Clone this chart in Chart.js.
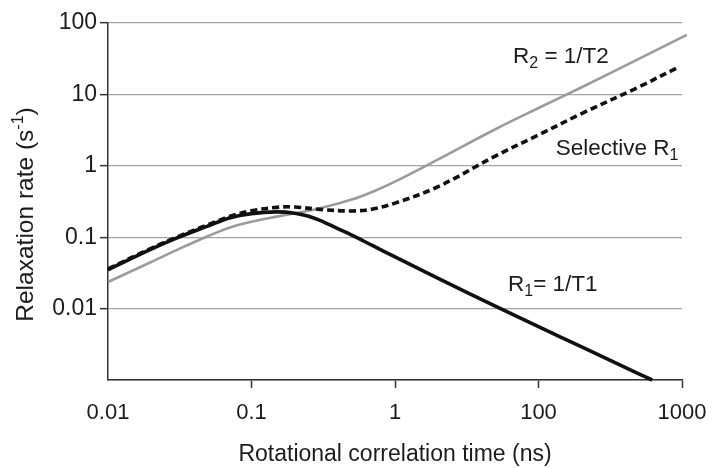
<!DOCTYPE html>
<html><head><meta charset="utf-8">
<script src="https://cdn.jsdelivr.net/npm/chart.js@4/dist/chart.umd.min.js"></script>
<style>html,body{margin:0;padding:0;background:#fff}</style>
</head><body>
<canvas id="c" width="712" height="468"></canvas>
<script>
// x positions are in axis units (evenly spaced decades); labels as printed on the reference
const xTickValues = [0.01, 0.1, 1, 10, 100];
const xTickLabels = ['0.01', '0.1', '1', '100', '1000'];
const yTickValues = [0.001, 0.01, 0.1, 1, 10, 100];
const yTickLabels = ['', '0.01', '0.1', '1', '10', '100'];

const r1Tau  = [0.01, 0.02, 0.03, 0.05, 0.07, 0.1, 0.15, 0.2, 0.25, 0.3, 0.4, 0.5, 0.7, 1, 2, 5, 10, 20, 50, 62];
const r1Rate = [0.035, 0.068, 0.097, 0.144, 0.186, 0.214, 0.226, 0.217, 0.197, 0.172, 0.132, 0.107, 0.076, 0.053, 0.0265, 0.0108, 0.0056, 0.0029, 0.00122, 0.001];

const r2Tau  = [0.01, 0.02, 0.03, 0.05, 0.07, 0.1, 0.15, 0.2, 0.3, 0.5, 0.7, 1, 2, 5, 10, 20, 50, 108];
const r2Rate = [0.0236, 0.045, 0.066, 0.104, 0.136, 0.165, 0.194, 0.216, 0.254, 0.337, 0.434, 0.6, 1.23, 3.25, 6.45, 12.6, 31.4, 68];

const selTau  = [0.01, 0.02, 0.03, 0.05, 0.07, 0.1, 0.15, 0.2, 0.3, 0.5, 0.7, 1, 2, 5, 10, 20, 50, 94];
const selRate = [0.036, 0.07, 0.1, 0.15, 0.195, 0.235, 0.262, 0.265, 0.245, 0.233, 0.248, 0.3, 0.51, 1.37, 2.7, 5.4, 12.7, 24];

const FAM = "'Liberation Sans', Arial, Helvetica, sans-serif";
const TXT = '#1c1c1c';

const pts = (xs, ys) => xs.map((v, i) => ({x: v, y: ys[i]}));

const labels = [
  {x: 6.64, y: 27.5, parts: [['R', 0], ['2', 1], [' = 1/T2', 0]]},
  {x: 13.2, y: 1.42, parts: [['Selective R', 0], ['1', 1]]},
  {x: 6.13, y: 0.0176, parts: [['R', 0], ['1', 1], ['= 1/T1', 0]]}
];

const textPlugin = {
  id: 'texts',
  afterDraw(chart) {
    const {ctx, scales, chartArea} = chart;
    ctx.save();
    ctx.fillStyle = TXT;
    ctx.textBaseline = 'alphabetic';
    ctx.textAlign = 'left';
    for (const a of labels) {
      let px = scales.x.getPixelForValue(a.x);
      const py = scales.y.getPixelForValue(a.y);
      for (const [t, m] of a.parts) {
        ctx.font = (m ? '16px ' : '22.5px ') + FAM;
        ctx.fillText(t, px, py + (m ? 5 : 0));
        px += ctx.measureText(t).width;
      }
    }
    const parts = [['Relaxation rate (s', 0], ['-1', 2], [')', 0]];
    const f = m => (m ? '16px ' : '24.5px ') + FAM;
    let total = 0;
    for (const [t, m] of parts) { ctx.font = f(m); total += ctx.measureText(t).width; }
    ctx.translate(33, (chartArea.top + chartArea.bottom) / 2 + 13);
    ctx.rotate(-Math.PI / 2);
    let cx = -total / 2;
    for (const [t, m] of parts) {
      ctx.font = f(m);
      ctx.fillText(t, cx, m ? -10 : 0);
      cx += ctx.measureText(t).width;
    }
    ctx.restore();
  }
};

const common = {pointRadius: 0, tension: 0.35, clip: false, fill: false};

new Chart(document.getElementById('c'), {
  type: 'line',
  data: {
    datasets: [
      Object.assign({label: 'Selective R1', data: pts(selTau, selRate), borderColor: '#111', borderWidth: 3.6, borderDash: [7, 4]}, common),
      Object.assign({label: 'R1 = 1/T1', data: pts(r1Tau, r1Rate), borderColor: '#111', borderWidth: 3.6}, common),
      Object.assign({label: 'R2 = 1/T2', data: pts(r2Tau, r2Rate), borderColor: '#9b9b9b', borderWidth: 2.6}, common)
    ]
  },
  options: {
    responsive: false,
    animation: false,
    devicePixelRatio: 1,
    layout: {padding: {top: 23, right: 30, left: 0, bottom: 0}},
    plugins: {legend: {display: false}, tooltip: {enabled: false}},
    scales: {
      x: {
        type: 'logarithmic', min: 0.01, max: 100,
        afterBuildTicks: s => { s.ticks = xTickValues.map(v => ({value: v})); },
        afterFit: s => { s.height = 88; s.paddingRight = 0; s.paddingLeft = 0; },
        ticks: {callback: (v, i) => xTickLabels[i], font: {size: 22, family: FAM}, color: TXT, padding: 12, maxRotation: 0, autoSkip: false},
        grid: {drawOnChartArea: false, drawTicks: true, tickLength: 8, tickWidth: 1.5, tickColor: c => (c.index === 0 ? 'rgba(0,0,0,0)' : '#333')},
        border: {color: '#333', width: 1.5},
        title: {display: true, text: 'Rotational correlation time (ns)', font: {size: 23, family: FAM}, color: TXT, padding: {top: 0, bottom: 0}}
      },
      y: {
        type: 'logarithmic', min: 0.001, max: 100,
        afterBuildTicks: s => { s.ticks = yTickValues.map(v => ({value: v})); },
        afterFit: s => { s.width = 108; },
        ticks: {callback: (v, i) => yTickLabels[i], font: {size: 23, family: FAM}, color: TXT, padding: 3, autoSkip: false},
        grid: {color: '#a3a3a3', lineWidth: 1.3, tickLength: 8, tickWidth: 1.5, tickColor: c => (c.tick && c.tick.value === 0.001 ? 'rgba(0,0,0,0)' : '#333')},
        border: {color: '#333', width: 1.5}
      }
    }
  },
  plugins: [textPlugin]
});
</script>
</body></html>
